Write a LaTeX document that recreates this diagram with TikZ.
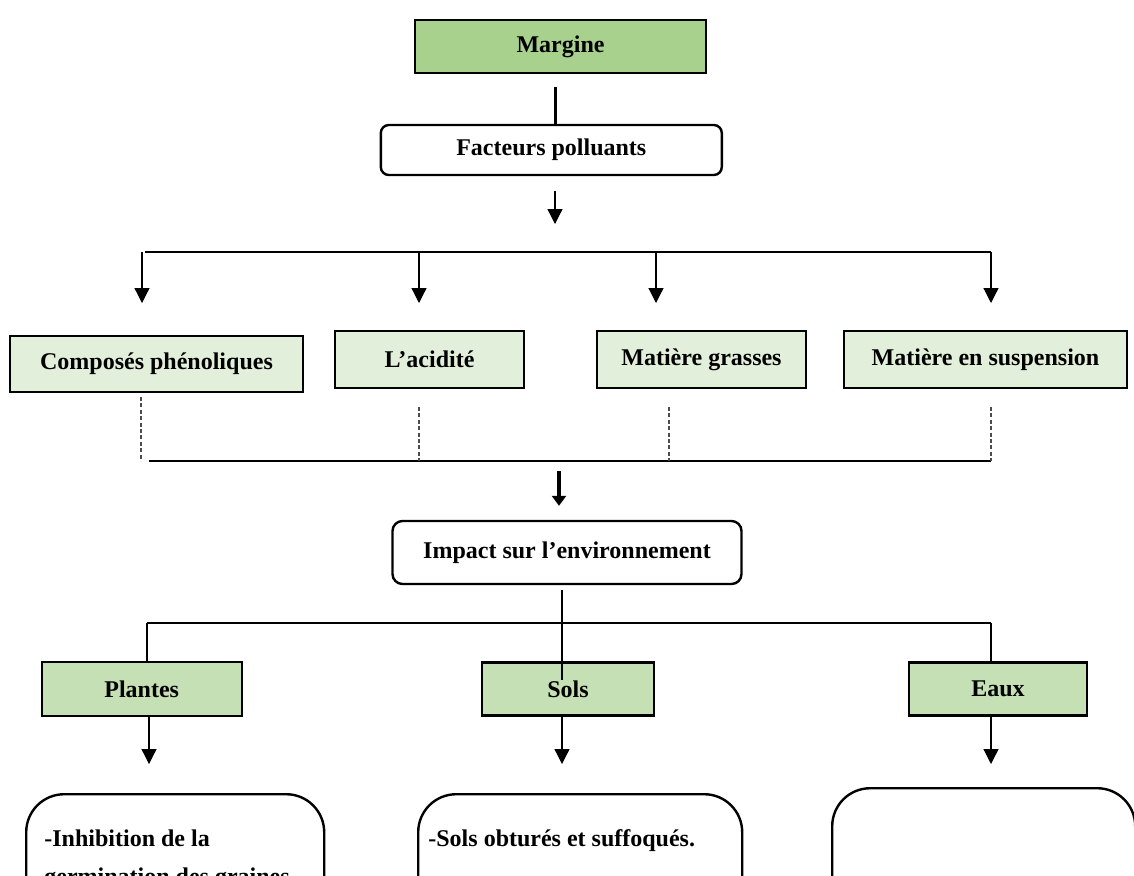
\documentclass[tikz,border=0pt]{standalone}
\usepackage{fontspec}
\setmainfont{Liberation Serif}
\usepackage{tikz}
\usetikzlibrary{positioning}
\usetikzlibrary{arrows.meta}
\definecolor{vertfonce}{HTML}{A9D18E}
\definecolor{vertmoyen}{HTML}{C5E0B4}
\definecolor{vertclair}{HTML}{E2EFDA}

\begin{document}
\begin{tikzpicture}[x=0.5pt, y=-0.5pt,
    every node/.style={font=\bfseries\fontsize{12}{14}\selectfont, inner sep=0pt},
    carre/.style={draw, line width=1.2pt, rectangle},
    arrondi/.style={draw, line width=1.2pt, rounded corners=4pt, fill=white},
    bulle/.style={draw, line width=1.2pt, rounded corners=19pt, anchor=north west, minimum height=150pt},
    fl/.style={line width=0.6pt, -{Triangle[length=7.5pt,width=7.5pt]}},
    trait/.style={line width=0.6pt},
    pointille/.style={line width=0.6pt, gray!60!black, dash pattern=on 2pt off 1.2pt}]
\useasboundingbox (0,0) rectangle (1134,875);
\clip (0,0) rectangle (1134,875);

\node[carre, fill=vertfonce, minimum width=145.5pt, minimum height=26.5pt] (marg) at (560.5,46.5) {Margine};
\node[arrondi, minimum width=170.5pt, minimum height=25pt] (fact) at (551.3,150) {Facteurs polluants};

\node[carre, fill=vertclair, minimum width=146.5pt, minimum height=28pt] (comp) at (156.5,364) {Composés phénoliques};
\node[carre, fill=vertclair, minimum width=94.5pt, minimum height=28.5pt] (acid) at (429.5,359.5) {L’acidité};
\node[carre, fill=vertclair, minimum width=104.5pt, minimum height=28.5pt] (gras) at (701.5,359.5) {Matière grasses};
\node[carre, fill=vertclair, minimum width=141.5pt, minimum height=28.5pt] (susp) at (985.5,359.5) {Matière en suspension};

\node[arrondi, rounded corners=5pt, minimum width=174.5pt, minimum height=31.5pt] (imp) at (567,552.5) {Impact sur l’environnement};

\node[carre, fill=vertmoyen, minimum width=100pt, minimum height=27pt] (plan) at (141.7,689) {Plantes};
\node[carre, fill=vertmoyen, minimum width=86pt, minimum height=26.5pt] (sols) at (568,689) {Sols};
\node[carre, fill=vertmoyen, minimum width=89pt, minimum height=26.5pt] (eaux) at (998,689) {Eaux};

\node[bulle, minimum width=149pt] (planb) at (25,793) {};
\node[bulle, minimum width=162pt] (solsb) at (417,793) {};
\node[bulle, minimum width=151.5pt] (eauxb) at (831,787) {};
\node[anchor=base west, align=left, font=\bfseries\fontsize{12}{19}\selectfont] (plantxt) at ([xshift=9.5pt, yshift=-45.5pt]planb.north west) {-Inhibition de la\\germination des graines};
\node[anchor=base west] (solstxt) at ([xshift=5.5pt, yshift=-26.5pt]solsb.north west) {-Sols obturés et suffoqués.};

\coordinate (m1) at (555,87);
\draw[line width=1.5pt] (m1) -- (m1 |- fact.north);
\coordinate (f1) at (555,191);
\coordinate (f2) at (555,224);
\draw[fl] (f1) -- (f2);

\coordinate (b1g) at (145,252);
\coordinate (b1d) at (991,252);
\draw[trait] (b1g) -- (b1d);
\foreach \x/\n in {142/1, 419/2, 656/3, 991/4} {
  \coordinate (t\n) at (\x,303);
  \draw[fl] (t\n |- b1g) -- (t\n);
}

\coordinate (b2g) at (149,461);
\coordinate (b2d) at (991,461);
\draw[trait] (b2g) -- (b2d);
\foreach \x/\y/\n in {141/397/1, 419/407/2, 669/407/3, 991/407/4} {
  \coordinate (p\n) at (\x,\y);
  \draw[pointille] (p\n) -- (p\n |- b2g);
}

\coordinate (i1) at (559,471);
\draw[line width=2pt, -{Triangle[length=5pt,width=7pt]}, shorten >=7pt] (i1) -- (i1 |- imp.north);

\coordinate (b3g) at (147,623);
\coordinate (b3d) at (991,623);
\draw[line width=1pt] (b3g) -- (b3d);
\draw[line width=0.8pt] (b3g) -- (b3g |- plan.north);
\draw[line width=0.8pt] (b3d) -- (b3d |- eaux.north);

\coordinate (i2) at (562,590);
\coordinate (i3) at (562,680);
\draw[line width=1pt] (i2) -- (i3);

\coordinate (a1) at (149,764);
\coordinate (a2) at (562,764);
\coordinate (a3) at (991,764);
\draw[fl] (a1 |- plan.south) -- (a1);
\draw[fl] (a2 |- sols.south) -- (a2);
\draw[fl] (a3 |- eaux.south) -- (a3);
\end{tikzpicture}
\end{document}
